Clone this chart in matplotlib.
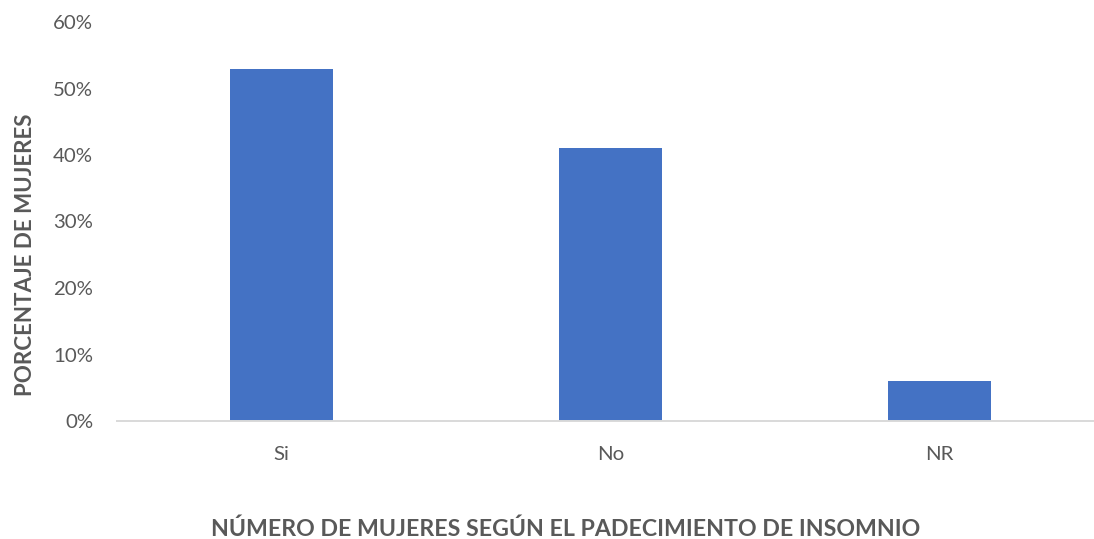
import matplotlib.pyplot as plt
from matplotlib.ticker import PercentFormatter

# datos del grafico
categorias = ['Si', 'No', 'NR']
porcentajes = [53, 41, 6]
yticks = [0, 10, 20, 30, 40, 50, 60]

plt.rcParams['font.family'] = ['Lato', 'DejaVu Sans']

W, H = 1094, 539
DPI = 100
PX = 72 / DPI  # puntos por pixel

fig = plt.figure(figsize=(W / DPI, H / DPI), dpi=DPI)
# area del grafico en pixeles (izq, abajo, ancho, alto)
ax = fig.add_axes([117 / W, (H - 421) / H, 987 / W, 399 / H])

x = range(len(categorias))
ax.bar(x, porcentajes, width=0.313, color='#4472C4', zorder=2)

ax.set_xlim(-0.5, len(categorias) - 0.5)
ax.set_ylim(0, 60)
ax.set_yticks(yticks)
ax.yaxis.set_major_formatter(PercentFormatter(decimals=0))
ax.set_xticks(list(x))
ax.set_xticklabels(categorias)

for s in ['top', 'right', 'left']:
    ax.spines[s].set_visible(False)
ax.spines['bottom'].set_color('#D9D9D9')
ax.spines['bottom'].set_linewidth(1.4)

ax.tick_params(axis='both', length=0, colors='#595959', labelsize=14)
ax.tick_params(axis='y', pad=24 * PX)
ax.tick_params(axis='x', pad=39 * PX)

xlab = fig.text(566 / W, (H - 536) / H,
                'NÚMERO DE MUJERES SEGÚN EL PADECIMIENTO DE INSOMNIO',
                ha='center', va='baseline', fontsize=18, fontweight='bold',
                color='#595959')
ylab = fig.text(32 / W, (H - 255) / H, 'PORCENTAJE DE MUJERES', rotation=90,
                rotation_mode='anchor', ha='center', va='baseline',
                fontsize=18, fontweight='bold', color='#595959')

# ajustar tamanos de letra al ancho medido en la imagen
fig.canvas.draw()
r = fig.canvas.get_renderer()
w = xlab.get_window_extent(r).width
xlab.set_fontsize(xlab.get_fontsize() * 707 / w)
h = ylab.get_window_extent(r).height
ylab.set_fontsize(ylab.get_fontsize() * 284 / h)

lbl60 = ax.get_yticklabels()[-1]
w = lbl60.get_window_extent(r).width
ax.tick_params(axis='both', labelsize=14 * 40 / w)
for lbl in ax.get_xticklabels():
    lbl.set_va('baseline')

fig.savefig('out.png', dpi=DPI)
